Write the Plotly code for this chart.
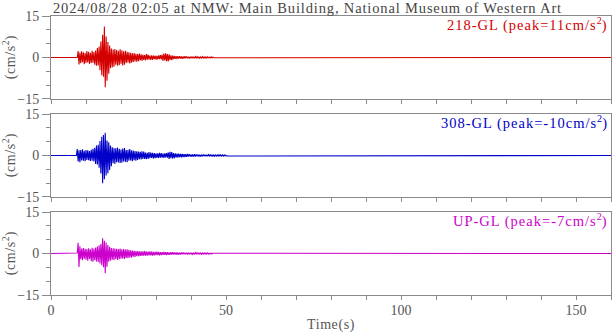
import plotly.graph_objects as go
from plotly.subplots import make_subplots

title_text = "2024/08/28 02:05 at NMW: Main Building, National Museum of Western Art"
channel_names = ["218-GL", "308-GL", "UP-GL"]
peak_values = [11, -10, -7]
colors = ["#d40000", "#0000c8", "#cc00cc"]
x_end = 160
dt = 0.25

# Burst start times (s) and hand-read acceleration samples (cm/s^2), 0.25 s apart
start_218 = 7.5
acc_218 = [
    0.0, 2.3, -2.5, 1.8, -2.1, 2.2, -1.7, 1.9, -2.4, 1.6, -2.0, 2.3, -1.8,
    2.1, -2.3, 1.7, -2.0, 2.4, -1.9, 2.0, -2.6, 2.5, -3.0, 3.4, -2.9,
    4.0, -4.6, 5.8, -6.4, 8.2, -7.0, 11.2, -10.8, 7.6, -8.4, 5.6, -5.9,
    4.3, -3.9, 3.2, -3.6, 2.9, -3.3, 3.1, -2.6, 2.7, -3.0, 2.4, -2.8,
    3.0, -2.3, 2.6, -2.9, 2.2, -2.6, 2.4, -2.0, 2.1, -1.8, 1.9, -2.2,
    1.7, -1.9, 1.5, -1.6, 1.6, -1.4, 1.3, -1.5, 1.2, -1.3, 1.4, -1.1,
    1.1, -1.2, 1.0, -0.9, 0.9, -1.1, 1.2, -0.8, 1.0, -0.8, 0.7, -0.9,
    0.8, -0.9, 0.7, -0.6, 0.7, -0.8, 0.6, -0.7, 0.8, -0.6, 0.9, -0.7,
    1.0, -1.2, 1.4, -1.1, 1.5, -1.3, 1.2, -1.4, 1.1, -0.9, 0.8, -1.0,
    0.7, -0.6, 0.6, -0.5, 0.5, -0.6, 0.5, -0.4, 0.5, -0.4, 0.4, -0.5,
    0.4, -0.4, 0.5, -0.3, 0.4, -0.3, 0.3, -0.4, 0.3, -0.3, 0.4, -0.3,
    0.3, -0.3, 0.3, -0.2, 0.3, -0.2, 0.2, -0.3, 0.2, -0.2, 0.3, -0.2,
    0.2, -0.2, 0.2, -0.2, 0.2, -0.1, 0.1, -0.2, 0.2, -0.1, 0.1, -0.1,
]

start_308 = 7.25
acc_308 = [
    0.0, 2.3, -2.2, 1.9, -2.4, 2.0, -1.8, 2.2, -1.9, 1.7, -2.1, 2.0, -1.6,
    1.9, -1.7, 1.6, -2.0, 2.1, -1.9, 2.4, -2.2, 2.8, -3.1, 3.6, -3.2,
    3.9, -4.4, 5.2, -6.5, 6.8, -10.0, 7.4, -8.6, 8.2, -7.2, 5.4, -6.4,
    4.8, -5.2, 3.6, -3.9, 3.0, -2.8, 2.7, -3.1, 2.6, -2.4, 2.9, -2.5,
    2.4, -2.7, 2.2, -2.6, 2.5, -2.2, 2.7, -2.3, 2.0, -2.4, 2.1, -1.9,
    2.3, -1.8, 1.9, -2.1, 1.8, -1.7, 1.6, -1.9, 1.5, -1.6, 1.4, -1.3,
    1.3, -1.4, 1.5, -1.2, 1.4, -1.2, 1.1, -1.3, 1.0, -1.2, 1.2, -1.0,
    1.1, -0.9, 1.0, -1.1, 0.9, -1.0, 0.8, -0.9, 0.8, -0.9, 1.0, -0.8,
    0.9, -0.8, 0.7, -0.9, 0.8, -0.7, 0.9, -0.8, 1.1, -1.2, 1.3, -1.0,
    1.2, -1.1, 0.9, -1.0, 0.8, -0.7, 0.7, -0.8, 0.7, -0.6, 0.6, -0.7,
    0.6, -0.6, 0.5, -0.6, 0.5, -0.5, 0.6, -0.4, 0.5, -0.4, 0.4, -0.5,
    0.4, -0.4, 0.5, -0.4, 0.4, -0.3, 0.4, -0.4, 0.3, -0.4, 0.3, -0.3,
    0.4, -0.3, 0.3, -0.3, 0.3, -0.3, 0.3, -0.2, 0.3, -0.2, 0.2, -0.3,
    0.2, -0.3, 0.2, -0.2, 0.2, -0.2, 0.3, -0.2, 0.2, -0.2, 0.2, -0.2,
    0.2, -0.2, 0.1, -0.2,
]

start_up = 7.5
acc_up = [
    0.2, 3.9, -4.9, 2.6, -2.1, 1.8, -2.4, 2.0, -1.9, 1.7, -2.2, 1.6,
    -2.6, 1.9, -2.0, 1.5, -2.8, 2.1, -3.0, 1.8, -2.4, 2.2, -2.9, 2.5,
    -3.1, 3.0, -3.6, 3.4, -4.2, 5.5, -5.0, 4.6, -7.1, 4.0, -4.8, 3.1,
    -3.0, 2.4, -2.6, 2.0, -2.2, 1.9, -2.4, 1.8, -2.0, 1.7, -2.3, 1.6,
    -2.1, 1.8, -1.9, 1.5, -1.8, 1.6, -2.0, 1.4, -1.6, 1.5, -1.7, 1.3,
    -1.4, 1.2, -1.5, 1.1, -1.1, 1.0, -1.2, 0.9, -1.0, 0.9, -1.0, 0.8,
    -0.9, 0.8, -0.9, 0.8, -0.8, 0.9, -0.8, 0.7, -0.8, 0.7, -0.7, 0.8,
    -0.7, 0.7, -0.8, 0.6, -0.7, 0.6, -0.6, 0.7, -0.6, 0.6, -0.7, 0.5,
    -0.6, 0.5, -0.5, 0.6, -0.5, 0.5, -0.6, 0.5, -0.5, 0.4, -0.5, 0.5,
    -0.4, 0.5, -0.4, 0.4, -0.4, 0.4, -0.5, 0.4, -0.4, 0.3, -0.4, 0.4,
    -0.3, 0.4, -0.3, 0.3, -0.3, 0.3, -0.4, 0.3, -0.3, 0.3, -0.3, 0.2,
    -0.3, 0.2, -0.3, 0.3, -0.2, 0.3, -0.2, 0.2, -0.2, 0.2, -0.3, 0.2,
    -0.2, 0.2, -0.2, 0.2, -0.2, 0.2, -0.2, 0.1, -0.1, 0.1, -0.1, 0.1,
]

starts = [start_218, start_308, start_up]
series = [acc_218, acc_308, acc_up]

FONT = "Liberation Serif, Times New Roman, serif"
AXC = "#8a8a8a"
TXC = "#555555"


def spaced(s, px):
    return f'<span style="letter-spacing:{px}px">{s}</span>'


fig = make_subplots(rows=3, cols=1, shared_xaxes=False, vertical_spacing=0.054)

for i, (t0, acc, col) in enumerate(zip(starts, series, colors)):
    t = [0.0] + [t0 + k * dt for k in range(len(acc))] + [x_end]
    v = [0.0] + acc + [0.0]
    fig.add_trace(go.Scatter(x=t, y=v, mode="lines", line=dict(color=col, width=1.1),
                             showlegend=False, hoverinfo="skip"), row=i + 1, col=1)
    sfx = '' if i == 0 else str(i + 1)
    fig.add_annotation(xref=f"x{sfx} domain", yref=f"y{sfx} domain",
                       x=0.999, y=1.0, yshift=3, xanchor="right", yanchor="top", showarrow=False,
                       text=spaced(f"{channel_names[i]} (peak={peak_values[i]}cm/s", 1.0)
                       + '<sup>2</sup>' + spaced(")", 1.0),
                       font=dict(family=FONT, size=14.5, color=col))

for i in range(3):
    fig.update_xaxes(range=[0, x_end], dtick=50, tick0=0, ticks="outside", ticklen=4, tickcolor=AXC,
                     showline=True, mirror=True, linecolor=AXC, linewidth=1,
                     showgrid=False, zeroline=False, showticklabels=(i == 2),
                     minor=dict(dtick=10, ticks="outside", ticklen=4, tickcolor=AXC, showgrid=False),
                     tickfont=dict(family=FONT, size=14, color=TXC), row=i + 1, col=1)
    fig.update_yaxes(range=[-15, 15], tickvals=[-15, 0, 15], ticks="outside", ticklen=8, tickcolor=AXC,
                     showline=True, mirror=True, linecolor=AXC, linewidth=1,
                     showgrid=False, zeroline=False,
                     minor=dict(dtick=5, ticks="outside", ticklen=4, tickcolor=AXC, showgrid=False),
                     tickfont=dict(family=FONT, size=14, color=TXC),
                     title=dict(text=spaced("(cm/s", 0.6) + "<sup>2</sup>)",
                                font=dict(family=FONT, size=14, color=TXC), standoff=6),
                     row=i + 1, col=1)

fig.update_xaxes(title=dict(text=spaced("Time(s)", 0.6), font=dict(family=FONT, size=14, color=TXC), standoff=2),
                 ticklabelstandoff=-2, row=3, col=1)

fig.add_annotation(xref="paper", yref="paper", x=0.0, y=1.0, yshift=18, xanchor="left", yanchor="top",
                   showarrow=False, text=spaced(title_text, 0.85),
                   font=dict(family=FONT, size=14.5, color="#444444"))

fig.update_layout(width=613, height=334, margin=dict(l=50, r=1, t=16, b=39),
                  plot_bgcolor="white", paper_bgcolor="white")

fig.write_html("out.html")
